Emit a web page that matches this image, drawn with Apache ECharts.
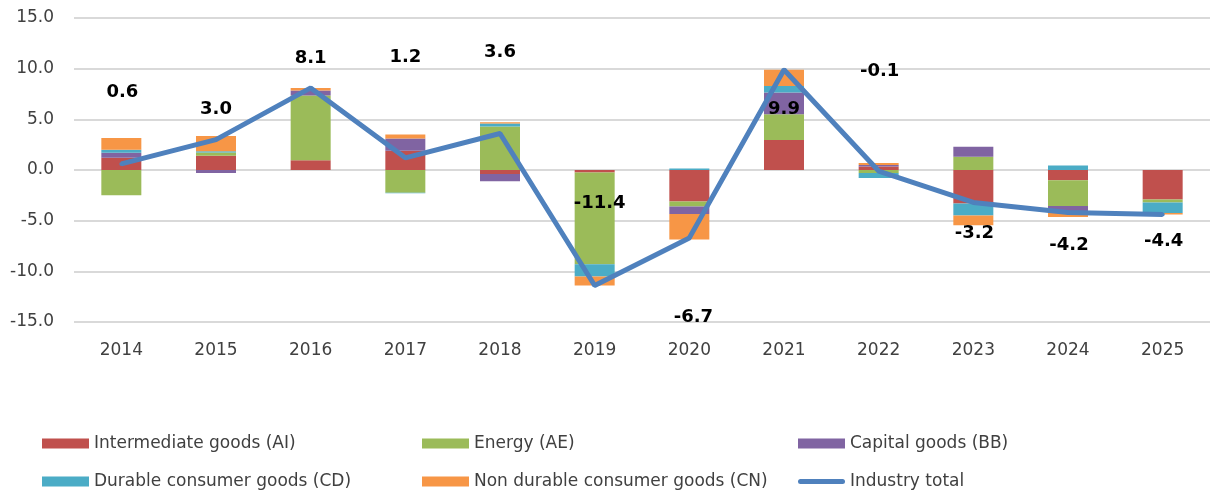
<!DOCTYPE html>
<html>
<head>
<meta charset="utf-8">
<script src="https://cdn.jsdelivr.net/npm/echarts@6/dist/echarts.min.js"></script>
<style>
  html, body { margin: 0; padding: 0; background: #fff; }
  #chart { width: 1210px; height: 495px; }
</style>
</head>
<body>
<div id="chart"></div>
<script>
var years = ['2014', '2015', '2016', '2017', '2018', '2019', '2020', '2021', '2022', '2023', '2024', '2025'];
var intermediate = [1.2, 1.4, 0.95, 1.9, -0.4, -0.25, -3.1, 2.95, 0.35, -3.3, -1.0, -2.9];
var energy = [-2.5, 0.33, 6.4, -2.25, 4.3, -9.05, -0.5, 2.55, -0.3, 1.3, -2.55, -0.3];
var capital = [0.5, -0.3, 0.5, 1.2, -0.7, 0, -0.75, 2.15, 0.15, 1.0, -0.5, 0];
var durable = [0.3, 0.13, 0, -0.05, 0.3, -1.2, 0.15, 0.65, -0.5, -1.2, 0.45, -1.05];
var nonDurable = [1.15, 1.5, 0.25, 0.4, 0.1, -0.9, -2.5, 1.6, 0.2, -0.95, -0.6, -0.15];
var industryTotal = [0.6, 3.0, 8.1, 1.2, 3.6, -11.4, -6.7, 9.9, -0.1, -3.2, -4.2, -4.4];
var yTicks = [-15, -10, -5, 0, 5, 10, 15];

// where Excel put each total label, relative to its point
var labelOffsets = [[1, -72], [0, -30], [0, -30], [0, -101], [0, -81], [5, -82],
                    [4, 79], [0, 40], [1, -100], [1, 31], [1, 33], [1, 27]];

var chart = echarts.init(document.getElementById('chart'));

function barSeries(name, data, color) {
    return {
        name: name,
        type: 'bar',
        stack: 'total',
        barWidth: 40,
        itemStyle: { color: color },
        data: data
    };
}

var lineData = industryTotal.map(function (v, i) {
    return {
        value: v,
        label: { offset: labelOffsets[i] }
    };
});

// thick rounded line used as the legend mark for the total
var lineIcon = 'path://M2.5,0 L44.5,0 A2.5,2.5 0 0 1 44.5,5 L2.5,5 A2.5,2.5 0 0 1 2.5,0 Z';

var legendBase = {
    top: 430, orient: 'vertical', itemGap: 21,
    itemWidth: 47, itemHeight: 10,
    textStyle: { fontSize: 17, color: '#404040', fontFamily: 'DejaVu Sans' }
};

var option = {
    animation: false,
    textStyle: { fontFamily: 'DejaVu Sans' },
    grid: { left: 74, right: -9, top: 18, bottom: 173 },
    legend: [
        Object.assign({}, legendBase, {
            left: 37,
            data: [{ name: 'Intermediate goods (AI)', icon: 'rect' }, { name: 'Durable consumer goods (CD)', icon: 'rect' }]
        }),
        Object.assign({}, legendBase, {
            left: 417,
            data: [{ name: 'Energy (AE)', icon: 'rect' }, { name: 'Non durable consumer goods (CN)', icon: 'rect' }]
        }),
        Object.assign({}, legendBase, {
            left: 793,
            data: [{ name: 'Capital goods (BB)', icon: 'rect' }, { name: 'Industry total', icon: lineIcon }]
        })
    ],
    xAxis: {
        type: 'category',
        data: years,
        axisLine: { show: false, onZero: false },
        axisTick: { show: false },
        axisLabel: { color: '#404040', fontSize: 17, margin: 20 }
    },
    yAxis: {
        type: 'value',
        min: yTicks[0],
        max: yTicks[yTicks.length - 1],
        interval: 5,
        axisLine: { show: false },
        axisTick: { show: false },
        axisLabel: {
            color: '#404040', fontSize: 17, margin: 20,
            formatter: function (v) { return v.toFixed(1); }
        },
        splitLine: { lineStyle: { color: '#d9d9d9', width: 2 } }
    },
    series: [
        barSeries('Intermediate goods (AI)', intermediate, '#C0504D'),
        barSeries('Energy (AE)', energy, '#9BBB59'),
        barSeries('Capital goods (BB)', capital, '#8064A2'),
        barSeries('Durable consumer goods (CD)', durable, '#4BACC6'),
        barSeries('Non durable consumer goods (CN)', nonDurable, '#F79646'),
        {
            name: 'Industry total',
            type: 'line',
            symbol: 'circle',
            symbolSize: 4,
            itemStyle: { color: '#4F81BD' },
            lineStyle: { color: '#4F81BD', width: 5 },
            label: {
                show: true,
                position: 'inside',
                color: '#000',
                fontSize: 18,
                fontWeight: 'bold',
                fontFamily: 'DejaVu Sans',
                formatter: function (p) { return p.value.toFixed(1); }
            },
            z: 3,
            data: lineData
        }
    ]
};

chart.setOption(option);

window.onresize = function () {
    chart.resize();
};
</script>
</body>
</html>
